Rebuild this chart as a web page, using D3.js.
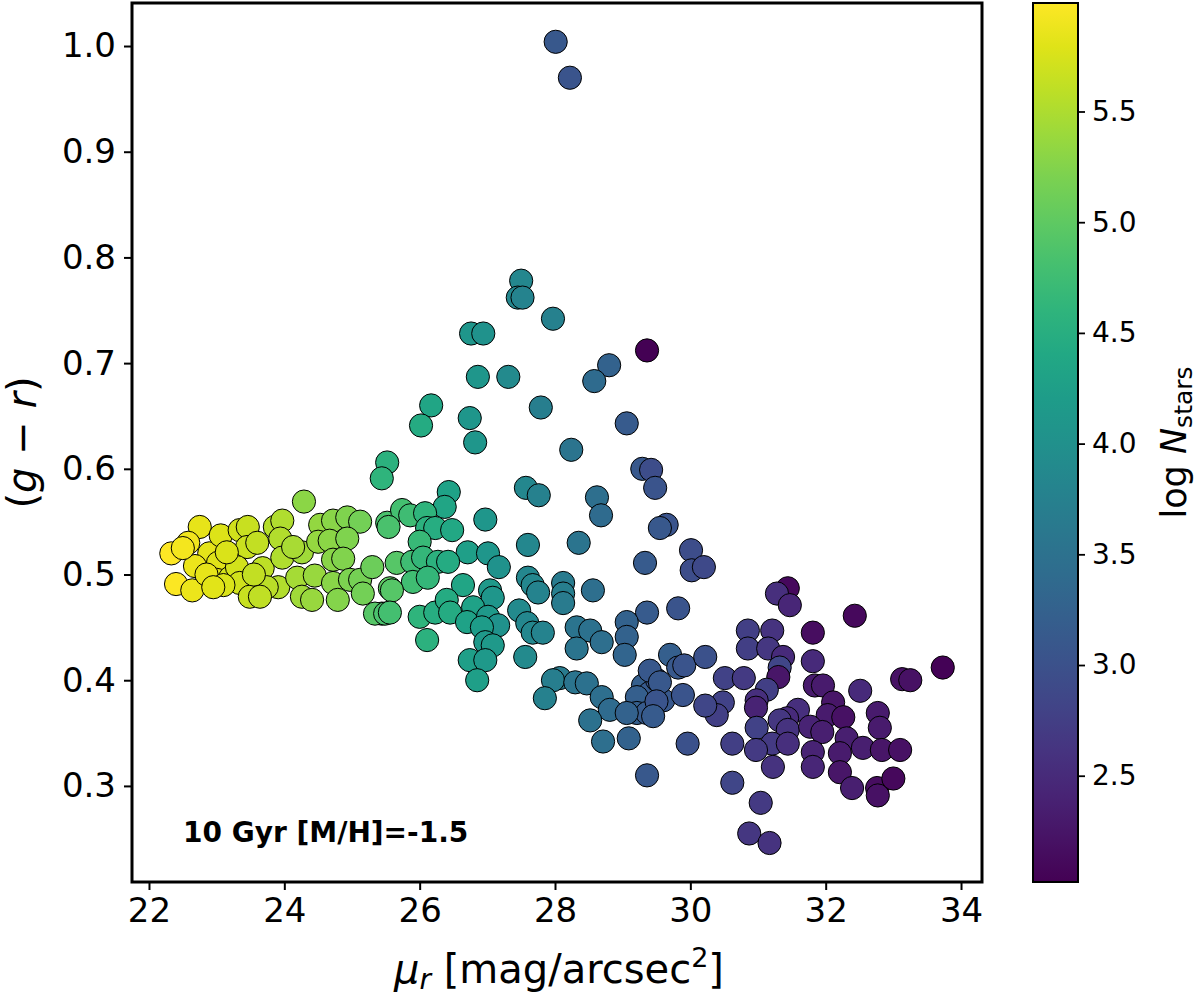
<!DOCTYPE html>
<html>
<head>
<meta charset="utf-8">
<script src="https://cdn.jsdelivr.net/npm/d3@7"></script>
<style>
html,body{margin:0;padding:0;background:#fff;}
svg{display:block;font-family:"DejaVu Sans",sans-serif;}
</style>
</head>
<body>
<svg id="chart" width="1200" height="998"></svg>
<script>
// surface brightness mu_r [mag/arcsec^2]
const muR = [
22.33,22.40,22.75,22.58,22.89,22.68,22.64,23.02,23.06,23.00,23.20,23.34,23.46,23.45,23.30,23.34,23.49,23.68,23.86,23.97,
23.94,23.97,23.91,23.74,23.64,24.19,24.26,24.26,24.41,24.13,24.29,22.50,22.85,23.10,22.95,23.15,23.60,23.55,
24.53,24.72,24.93,25.12,24.50,24.67,24.93,24.72,24.87,24.45,24.72,24.79,24.97,25.12,25.16,25.30,25.52,25.66,25.56,25.44,25.34,25.52,25.44,
26.17,26.02,26.43,26.37,25.74,25.86,26.08,25.54,26.11,26.23,26.48,26.00,26.97,26.71,27.01,27.17,27.60,28.35,29.33,
25.89,26.05,26.27,26.42,25.90,26.12,25.59,26.64,27.04,27.08,27.60,27.67,27.75,28.12,28.12,28.12,28.56,29.36,29.82,
25.49,25.56,26.00,26.23,26.40,26.45,26.79,26.70,27.01,27.16,26.11,26.92,26.97,27.08,26.74,26.97,26.85,
27.47,27.59,27.67,27.82,27.56,28.32,28.52,28.69,28.32,29.06,29.06,29.03,29.70,29.82,
28.07,27.97,27.85,28.30,28.47,28.69,28.81,28.52,29.30,29.40,29.21,29.21,29.36,29.06,29.51,29.60,
28.01,28.22,27.50,27.45,27.52,27.97,26.76,26.94,29.36,28.80,28.58,26.86,27.31,27.79,29.06,26.74,26.82,28.24,
29.29,29.42,29.48,27.57,27.76,28.62,28.68,29.65,29.55,
30.01,30.02,30.20,31.44,31.28,31.47,32.43,31.81,30.85,31.21,30.85,31.15,31.37,31.32,31.30,31.81,33.73,33.13,33.25,
29.91,30.22,30.51,30.79,31.13,30.48,30.39,30.22,30.98,30.97,31.84,31.96,32.11,32.51,32.03,32.26,32.77,32.80,
31.59,31.43,31.32,31.44,31.77,31.95,30.98,31.21,30.97,31.44,32.31,32.55,32.83,33.10,32.21,31.81,29.96,30.62,
31.81,31.22,32.21,32.39,32.76,32.77,33.00,30.62,31.04,30.87,31.17,29.36,
29.40,29.55,29.50,29.45,28.71,29.09,29.89
];
// colour (g - r)
const gMinusR = [
0.520,0.491,0.545,0.530,0.520,0.508,0.485,0.511,0.537,0.495,0.497,0.542,0.545,0.526,0.507,0.492,0.479,0.506,0.545,0.551,
0.534,0.516,0.488,0.488,0.479,0.497,0.521,0.479,0.476,0.526,0.569,0.525,0.500,0.490,0.488,0.521,0.530,0.500,
0.547,0.551,0.554,0.550,0.531,0.532,0.534,0.514,0.515,0.499,0.492,0.476,0.495,0.495,0.482,0.507,0.549,0.511,0.487,0.463,0.463,0.606,0.591,
0.660,0.641,0.578,0.564,0.561,0.556,0.558,0.545,0.544,0.544,0.542,0.531,0.552,0.521,0.520,0.507,0.528,0.530,0.511,
0.512,0.516,0.512,0.512,0.493,0.497,0.485,0.490,0.485,0.478,0.497,0.490,0.483,0.492,0.482,0.473,0.485,0.464,0.468,
0.463,0.464,0.460,0.464,0.476,0.464,0.469,0.455,0.460,0.452,0.438,0.450,0.436,0.433,0.419,0.419,0.400,
0.466,0.454,0.445,0.445,0.422,0.450,0.447,0.436,0.430,0.455,0.441,0.424,0.424,0.412,
0.402,0.400,0.383,0.398,0.397,0.384,0.372,0.362,0.395,0.388,0.384,0.369,0.369,0.369,0.400,0.381,
1.004,0.970,0.778,0.762,0.762,0.742,0.728,0.728,0.712,0.698,0.683,0.687,0.687,0.658,0.643,0.648,0.625,0.618,
0.600,0.599,0.582,0.582,0.575,0.573,0.556,0.547,0.544,
0.523,0.504,0.507,0.487,0.482,0.471,0.461,0.445,0.447,0.447,0.430,0.430,0.422,0.412,0.403,0.418,0.412,0.401,0.400,
0.414,0.422,0.402,0.402,0.391,0.379,0.367,0.376,0.381,0.374,0.395,0.395,0.379,0.390,0.367,0.365,0.369,0.355,
0.372,0.364,0.362,0.353,0.356,0.351,0.355,0.340,0.334,0.340,0.345,0.336,0.334,0.334,0.331,0.332,0.340,0.340,
0.318,0.318,0.313,0.298,0.298,0.291,0.307,0.303,0.284,0.255,0.246,0.310,
0.409,0.398,0.380,0.366,0.342,0.345,0.386
];
// log N_stars (colour-coded)
const logNstars = [
5.99,5.96,5.85,5.90,5.82,5.88,5.87,5.80,5.78,5.80,5.74,5.70,5.66,5.67,5.72,5.70,5.65,5.60,5.55,5.52,
5.53,5.52,5.54,5.58,5.61,5.45,5.43,5.43,5.38,5.47,5.30,5.92,5.84,5.77,5.81,5.76,5.62,5.63,
5.35,5.28,5.22,5.15,5.36,5.30,5.22,5.28,5.24,5.37,5.29,5.26,5.20,5.16,5.15,5.10,4.85,4.95,5.00,4.92,4.95,4.55,4.60,
4.35,4.45,4.30,4.35,4.80,4.75,4.60,4.85,4.55,4.50,4.40,4.70,4.10,4.25,4.10,4.05,3.85,3.55,3.15,
4.75,4.65,4.55,4.45,4.78,4.65,4.95,4.35,4.15,4.10,3.85,3.85,3.80,3.65,3.70,3.65,3.45,3.15,3.05,
4.85,4.80,4.60,4.50,4.45,4.45,4.30,4.30,4.15,4.05,4.55,4.20,4.15,4.15,4.25,4.15,4.25,
3.90,3.85,3.85,3.80,3.90,3.55,3.50,3.45,3.55,3.25,3.25,3.30,3.20,3.10,
3.65,3.70,3.75,3.55,3.50,3.45,3.40,3.50,3.20,3.15,3.20,3.20,3.15,3.25,3.10,3.10,
3.10,3.05,3.85,3.85,3.80,3.75,4.10,4.05,2.02,3.25,3.40,4.10,3.90,3.70,3.15,4.10,4.10,3.55,
3.10,2.95,3.05,3.85,3.75,3.45,3.40,3.05,3.10,
2.95,2.95,2.90,2.10,2.55,2.45,2.10,2.15,2.75,2.60,2.75,2.65,2.50,2.85,2.25,2.50,2.05,2.20,2.20,
3.05,3.00,2.80,2.70,2.75,2.80,2.75,2.85,2.55,2.40,2.30,2.30,2.25,2.50,2.30,2.20,2.30,2.30,
2.55,2.50,2.65,2.60,2.40,2.35,2.80,2.70,2.70,2.55,2.35,2.35,2.25,2.20,2.30,2.40,3.00,2.75,
2.45,2.60,2.25,2.35,2.15,2.20,2.10,2.85,2.70,2.65,2.60,3.10,
3.10,3.10,3.05,3.15,3.45,3.25,3.05
];
const xTicks = [22,24,26,28,30,32,34];
const yTicks = [0.3,0.4,0.5,0.6,0.7,0.8,0.9,1.0];
const cTicks = [2.5,3.0,3.5,4.0,4.5,5.0,5.5];
const annotation = "10 Gyr [M/H]=-1.5";

const svg = d3.select("#chart");
const L = 132, R = 982, T = 3, B = 882;
const x = d3.scaleLinear().domain([21.749, 34.31]).range([L, R]);
const y = d3.scaleLinear().domain([0.2091, 1.0407]).range([B, T]);
const cExt = d3.extent(logNstars);
const color = d3.scaleSequential(d3.interpolateViridis).domain(cExt);

const pts = muR.map((m, i) => ({m, g: gMinusR[i], n: logNstars[i]}));

svg.append("g").selectAll("circle").data(pts).join("circle")
  .attr("cx", d => x(d.m)).attr("cy", d => y(d.g)).attr("r", 11.6)
  .attr("fill", d => color(d.n)).attr("stroke", "#000").attr("stroke-width", 1);

// axes
const xAxis = svg.append("g").attr("transform", `translate(0,${B})`)
  .call(d3.axisBottom(x).tickValues(xTicks).tickFormat(d3.format("d")).tickSize(8).tickPadding(8));
const yAxis = svg.append("g").attr("transform", `translate(${L},0)`)
  .call(d3.axisLeft(y).tickValues(yTicks).tickFormat(d3.format(".1f")).tickSize(8).tickPadding(8));
[xAxis, yAxis].forEach(a => {
  a.select(".domain").remove();
  a.selectAll(".tick line").attr("stroke", "#000").attr("stroke-width", 2);
  a.selectAll(".tick text").attr("font-size", 34).attr("fill", "#000").attr("font-family", "DejaVu Sans");
});
svg.append("rect").attr("x", L).attr("y", T).attr("width", R - L).attr("height", B - T)
  .attr("fill", "none").attr("stroke", "#000").attr("stroke-width", 3);

// annotation
svg.append("text").attr("x", 183).attr("y", 842).attr("font-size", 28).attr("font-weight", "bold")
  .text(annotation);

// x label
const xl = svg.append("text").attr("x", (L + R) / 2 + 2).attr("y", 983).attr("text-anchor", "middle").attr("font-size", 40);
xl.append("tspan").attr("font-style", "italic").text("μ");
xl.append("tspan").attr("font-style", "italic").attr("font-size", 28).attr("dy", 6).text("r");
xl.append("tspan").attr("dy", -6).text(" [mag/arcsec");
xl.append("tspan").attr("font-size", 27).attr("dy", -16).text("2");
xl.append("tspan").attr("dy", 16).text("]");

// y label
const yl = svg.append("text").attr("transform", `translate(36,${(T + B) / 2}) rotate(-90)`)
  .attr("text-anchor", "middle").attr("font-size", 40);
yl.append("tspan").text("(");
yl.append("tspan").attr("font-style", "italic").text("g");
yl.append("tspan").text(" − ");
yl.append("tspan").attr("font-style", "italic").text("r");
yl.append("tspan").text(")");

// colorbar
const cbL = 1033, cbW = 45;
const cy = d3.scaleLinear().domain(cExt).range([B, T]);
const defs = svg.append("defs");
const grad = defs.append("linearGradient").attr("id", "cbgrad").attr("x1", 0).attr("y1", 1).attr("x2", 0).attr("y2", 0);
d3.range(0, 1.0001, 0.05).forEach(t => {
  grad.append("stop").attr("offset", t).attr("stop-color", d3.interpolateViridis(t));
});
svg.append("rect").attr("x", cbL).attr("y", T).attr("width", cbW).attr("height", B - T).attr("fill", "url(#cbgrad)");
const cAxis = svg.append("g").attr("transform", `translate(${cbL + cbW},0)`)
  .call(d3.axisRight(cy).tickValues(cTicks).tickFormat(d3.format(".1f")).tickSize(7).tickPadding(7));
cAxis.select(".domain").remove();
cAxis.selectAll(".tick line").attr("stroke", "#000").attr("stroke-width", 1.8);
cAxis.selectAll(".tick text").attr("font-size", 28).attr("fill", "#000").attr("font-family", "DejaVu Sans");
svg.append("rect").attr("x", cbL).attr("y", T).attr("width", cbW).attr("height", B - T)
  .attr("fill", "none").attr("stroke", "#000").attr("stroke-width", 2);

const cl = svg.append("text").attr("transform", `translate(1186,${(T + B) / 2}) rotate(-90)`)
  .attr("text-anchor", "middle").attr("font-size", 35);
cl.append("tspan").text("log ");
cl.append("tspan").attr("font-style", "italic").text("N");
cl.append("tspan").attr("font-size", 25).attr("dy", 6).text("stars");
</script>
</body>
</html>
